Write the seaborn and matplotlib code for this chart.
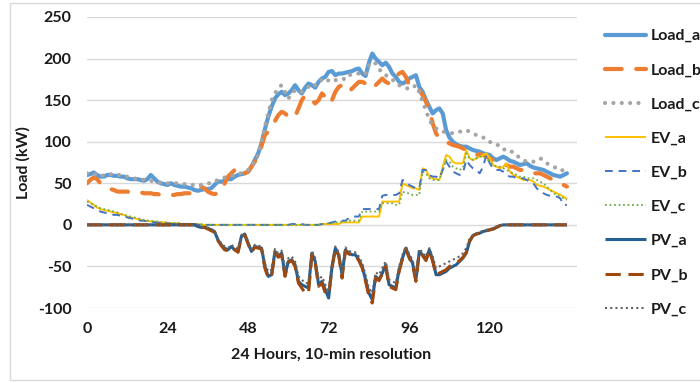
import numpy as np
import pandas as pd
import seaborn as sns
import matplotlib
matplotlib.use("Agg")
import matplotlib.pyplot as plt
from matplotlib.patches import Rectangle

# ---------------- data (144 ten-minute steps) ----------------
load_a = [60, 61, 63, 60, 58, 58, 60, 60, 59, 59,
          58, 58, 56, 55, 55, 55, 54, 53, 55, 60,
          56, 52, 50, 49, 48, 50, 48, 47, 46, 46,
          45, 44, 42, 41, 42, 43, 43, 44, 48, 52,
          52, 53, 55, 55, 58, 60, 61, 62, 64, 70,
          78, 86, 98, 115, 130, 142, 152, 157, 160, 156,
          158, 162, 168, 162, 158, 165, 170, 168, 165, 172,
          176, 178, 184, 185, 180, 182, 182, 183, 184, 185,
          187, 188, 182, 179, 195, 206, 200, 196, 192, 195,
          190, 182, 178, 172, 170, 172, 176, 178, 180, 166,
          160, 150, 142, 134, 138, 140, 134, 114, 105, 100,
          97, 95, 94, 94, 92, 90, 89, 88, 86, 85,
          84, 80, 78, 80, 82, 80, 77, 76, 74, 72,
          73, 74, 71, 69, 68, 67, 66, 64, 62, 60,
          59, 58, 60, 62]

load_b = [50, 54, 57, 55, 50, 46, 45, 43, 42, 40,
          40, 40, 40, 39, 38, 38, 39, 38, 38, 38,
          37, 37, 36, 35, 35, 36, 36, 37, 37, 38,
          38, 38, 38, 42, 46, 44, 40, 38, 37, 38,
          40, 50, 58, 62, 66, 70, 65, 62, 64, 70,
          76, 82, 95, 108, 112, 118, 125, 132, 136, 134,
          130, 128, 130, 140, 150, 156, 152, 150, 146, 150,
          158, 154, 146, 150, 160, 166, 168, 164, 160, 164,
          168, 172, 172, 170, 174, 170, 168, 172, 176, 172,
          170, 176, 178, 182, 184, 178, 168, 166, 164, 162,
          156, 148, 138, 122, 110, 104, 102, 100, 98, 96,
          95, 94, 92, 90, 88, 86, 84, 85, 84, 82,
          80, 78, 76, 74, 72, 72, 70, 70, 68, 66,
          66, 64, 64, 62, 62, 62, 60, 58, 56, 54,
          52, 50, 48, 46]

load_c = [62, 61, 60, 62, 60, 59, 60, 61, 60, 60,
          60, 58, 58, 56, 56, 55, 55, 54, 53, 53,
          52, 51, 51, 50, 50, 51, 50, 50, 49, 49,
          48, 48, 48, 47, 48, 49, 50, 50, 52, 54,
          56, 57, 58, 59, 60, 62, 62, 64, 66, 70,
          76, 84, 100, 118, 134, 150, 158, 165, 168, 160,
          152, 158, 162, 160, 160, 164, 166, 170, 168, 170,
          175, 172, 174, 176, 174, 175, 176, 175, 180, 181,
          182, 182, 180, 182, 192, 196, 194, 188, 182, 180,
          178, 175, 170, 168, 166, 165, 163, 165, 168, 160,
          148, 138, 126, 120, 116, 113, 112, 112, 111, 110,
          111, 112, 113, 114, 112, 110, 108, 106, 105, 104,
          100, 97, 96, 96, 92, 88, 88, 88, 84, 80,
          78, 76, 76, 76, 78, 80, 78, 74, 72, 70,
          68, 65, 66, 67]

ev_a = [30, 27, 24, 21, 19, 18, 17, 16, 15, 14,
        13, 12, 10, 9, 8, 7, 6, 5, 5, 4,
        4, 3, 3, 3, 2, 2, 2, 2, 1, 1,
        1, 1, 1, 1, 0, 0, 0, 0, 0, 0,
        0, 0, 0, 0, 0, 0, 0, 0, 0, 0,
        0, 0, 0, 0, 0, 0, 0, 0, 0, 0,
        0, 0, 0, 0, 0, 0, 0, 0, 0, 0,
        1, 1, 1, 1, 1, 1, 3, 3, 3, 3,
        3, 3, 10, 10, 10, 10, 10, 10, 28, 28,
        28, 28, 28, 28, 50, 48, 46, 44, 44, 42,
        68, 66, 58, 56, 55, 54, 70, 84, 82, 76,
        74, 74, 74, 90, 80, 78, 80, 82, 84, 86,
        80, 72, 70, 68, 70, 74, 64, 60, 58, 56,
        54, 54, 54, 52, 48, 47, 46, 44, 42, 40,
        38, 36, 34, 31]

ev_b = [24, 22, 20, 18, 16, 15, 14, 13, 12, 12,
        11, 10, 9, 8, 7, 6, 5, 5, 4, 4,
        3, 3, 2, 2, 2, 1, 1, 1, 1, 1,
        1, 1, 1, 0, 0, 0, 0, 0, 0, 0,
        0, 0, 0, 0, 0, 0, 0, 0, 0, 0,
        0, 0, 0, 0, 0, 0, 0, 0, 0, 0,
        0, 1, 1, 1, 1, 0, 0, 0, 0, 0,
        1, 2, 2, 3, 4, 5, 5, 5, 8, 10,
        10, 10, 19, 19, 19, 19, 19, 19, 35, 36,
        36, 36, 36, 38, 54, 52, 48, 46, 44, 44,
        66, 66, 60, 58, 58, 56, 66, 76, 70, 64,
        62, 60, 62, 78, 72, 68, 66, 62, 70, 84,
        74, 68, 66, 66, 64, 60, 58, 58, 56, 56,
        56, 54, 52, 50, 44, 40, 38, 36, 35, 34,
        34, 32, 24, 24]

ev_c = [28, 26, 24, 22, 20, 19, 18, 17, 16, 15,
        13, 12, 11, 10, 9, 8, 7, 6, 5, 5,
        4, 4, 3, 3, 3, 2, 2, 2, 2, 1,
        1, 1, 1, 1, 1, 0, 0, 0, 0, 0,
        0, 0, 0, 0, 0, 0, 0, 0, 0, 0,
        0, 0, 0, 0, 0, 0, 0, 0, 0, 0,
        0, 0, 0, 0, 0, 0, 0, 0, 0, 0,
        1, 1, 2, 2, 3, 3, 4, 4, 5, 5,
        5, 5, 16, 16, 16, 16, 16, 16, 26, 26,
        26, 26, 24, 24, 40, 38, 38, 36, 36, 36,
        64, 62, 56, 54, 54, 54, 66, 78, 76, 70,
        68, 66, 68, 86, 80, 78, 80, 82, 82, 80,
        76, 72, 70, 70, 68, 66, 64, 62, 60, 58,
        58, 56, 56, 56, 54, 52, 50, 46, 42, 38,
        36, 34, 32, 30]

pv_a = [0, 0, 0, 0, 0, 0, 0, 0, 0, 0,
        0, 0, 0, 0, 0, 0, 0, 0, 0, 0,
        0, 0, 0, 0, 0, 0, 0, 0, 0, 0,
        0, 0, 0, -2, -3, -3, -4, -6, -8, -18,
        -24, -28, -30, -26, -30, -32, -14, -11, -22, -32,
        -26, -27, -28, -50, -62, -60, -32, -38, -34, -60,
        -44, -42, -48, -68, -72, -74, -76, -34, -44, -72,
        -68, -78, -88, -50, -28, -36, -60, -30, -34, -36,
        -36, -42, -50, -66, -82, -90, -62, -66, -58, -48,
        -72, -74, -76, -54, -40, -28, -38, -46, -66, -32,
        -36, -42, -30, -42, -60, -60, -58, -56, -52, -50,
        -48, -44, -40, -34, -20, -13, -11, -10, -8, -7,
        -6, -5, -3, -1, 0, 0, 0, 0, 0, 0,
        0, 0, 0, 0, 0, 0, 0, 0, 0, 0,
        0, 0, 0, 0]

pv_b = [0, 0, 0, 0, 0, 0, 0, 0, 0, 0,
        0, 0, 0, 0, 0, 0, 0, 0, 0, 0,
        0, 0, 0, 0, 0, 0, 0, 0, 0, 0,
        0, 0, 0, -2, -3, -3, -5, -7, -9, -19,
        -25, -30, -31, -27, -30, -33, -15, -12, -23, -33,
        -27, -28, -29, -52, -64, -62, -33, -39, -36, -62,
        -45, -43, -50, -70, -76, -82, -82, -36, -46, -74,
        -70, -82, -84, -52, -29, -37, -64, -31, -35, -37,
        -37, -43, -52, -68, -86, -94, -64, -67, -59, -50,
        -74, -76, -78, -56, -41, -29, -40, -48, -68, -33,
        -37, -43, -31, -44, -60, -58, -56, -54, -50, -48,
        -46, -43, -39, -33, -19, -13, -11, -10, -8, -7,
        -6, -5, -3, -1, 0, 0, 0, 0, 0, 0,
        0, 0, 0, 0, 0, 0, 0, 0, 0, 0,
        0, 0, 0, 0]

pv_c = [0, 0, 0, 0, 0, 0, 0, 0, 0, 0,
        0, 0, 0, 0, 0, 0, 0, 0, 0, 0,
        0, 0, 0, 0, 0, 0, 0, 0, 0, 0,
        0, 0, 0, -1, -2, -3, -4, -5, -7, -16,
        -22, -26, -28, -24, -27, -29, -12, -10, -20, -29,
        -24, -25, -26, -46, -56, -54, -29, -34, -31, -54,
        -40, -38, -44, -62, -66, -70, -70, -31, -40, -66,
        -62, -72, -80, -46, -26, -33, -56, -27, -31, -33,
        -33, -38, -46, -60, -76, -82, -57, -60, -52, -44,
        -66, -68, -70, -50, -36, -26, -35, -42, -60, -29,
        -33, -38, -28, -38, -52, -50, -48, -46, -44, -42,
        -40, -38, -34, -28, -17, -12, -10, -9, -7, -6,
        -5, -4, -2, -1, 0, 0, 0, 0, 0, 0,
        0, 0, 0, 0, 0, 0, 0, 0, 0, 0,
        0, 0, 0, 0]

series_names = ["Load_a", "Load_b", "Load_c", "EV_a", "EV_b", "EV_c", "PV_a", "PV_b", "PV_c"]
x_ticks = [0, 24, 48, 72, 96, 120]
y_ticks = [-100, -50, 0, 50, 100, 150, 200, 250]

# ---------------- styling ----------------
sns.set_theme(style="white")
plt.rcParams["font.family"] = ["Lato", "DejaVu Sans"]

W, H = 700, 383
fig = plt.figure(figsize=(W / 100, H / 100), dpi=100)
L, R, T, B = 87, 577, 17, 308
ax = fig.add_axes([L / W, 1 - B / H, (R - L) / W, (B - T) / H])

styles = {
    "Load_a": dict(color="#5B9BD5", lw=3.0, ls="-", cap="round"),
    "Load_b": dict(color="#ED7D31", lw=3.0, ls=(0, (4, 3.5)), cap="round"),
    "Load_c": dict(color="#A5A5A5", lw=3.0, ls=(0, (0.01, 2.0)), cap="round"),
    "EV_a": dict(color="#FFC000", lw=1.4, ls="-", cap="butt"),
    "EV_b": dict(color="#4472C4", lw=1.4, ls=(0, (4, 3)), cap="butt"),
    "EV_c": dict(color="#70AD47", lw=1.3, ls=(0, (1, 1.5)), cap="butt"),
    "PV_a": dict(color="#255E91", lw=2.2, ls="-", cap="butt"),
    "PV_b": dict(color="#9E480E", lw=2.2, ls=(0, (5, 2.5)), cap="butt"),
    "PV_c": dict(color="#636363", lw=1.5, ls=(0, (1, 1.5)), cap="butt"),
}
data = [load_a, load_b, load_c, ev_a, ev_b, ev_c, pv_a, pv_b, pv_c]

for name, vals in zip(series_names, data):
    st = styles[name]
    sns.lineplot(x=np.arange(len(vals)), y=np.array(vals, dtype=float), ax=ax,
                 color=st["color"], linewidth=st["lw"], linestyle=st["ls"],
                 label=name, solid_capstyle=st["cap"], dash_capstyle=st["cap"],
                 solid_joinstyle="round")

ax.set_xlim(0, 146)
ax.set_ylim(-100, 250)
ax.set_xticks(x_ticks)
ax.set_yticks(y_ticks)
ax.set_xticklabels([str(v) for v in x_ticks])
ax.set_yticklabels([str(v) for v in y_ticks])
ax.grid(axis="y", color="#d9d9d9", lw=1.0)
ax.grid(axis="x", visible=False)
for s in ax.spines.values():
    s.set_visible(False)
ax.tick_params(axis="both", length=0, labelsize=11.5, labelcolor="#1a1a1a")
ax.tick_params(axis="y", pad=11)
ax.tick_params(axis="x", pad=10)
for lab in ax.get_xticklabels() + ax.get_yticklabels():
    lab.set_fontweight("bold")

ax.set_xlabel("24 Hours, 10-min resolution", fontsize=11.5, fontweight="bold", color="#1a1a1a")
ax.set_ylabel("Load (kW)", fontsize=11.5, fontweight="bold", color="#1a1a1a")
ax.xaxis.set_label_coords((331 - L) / (R - L), (B - 348) / (B - T))
ax.yaxis.set_label_coords((31 - L) / (R - L), 0.5)

handles, labels = ax.get_legend_handles_labels()
leg = ax.legend(handles, labels, loc="upper left",
                bbox_to_anchor=(605 / W, 1 - 29 / H), bbox_transform=fig.transFigure,
                frameon=False, handlelength=2.55, handletextpad=0.3,
                labelspacing=1.25, borderpad=0, borderaxespad=0,
                prop={"weight": "bold", "size": 11.5})
for t in leg.get_texts():
    t.set_color("#1a1a1a")

fig.patches.append(Rectangle((10 / W, 3 / H), 1.0, 1 - 6 / H, transform=fig.transFigure,
                             fill=False, edgecolor="#d9d9d9", lw=1.0))

fig.savefig("out.png", dpi=100)
